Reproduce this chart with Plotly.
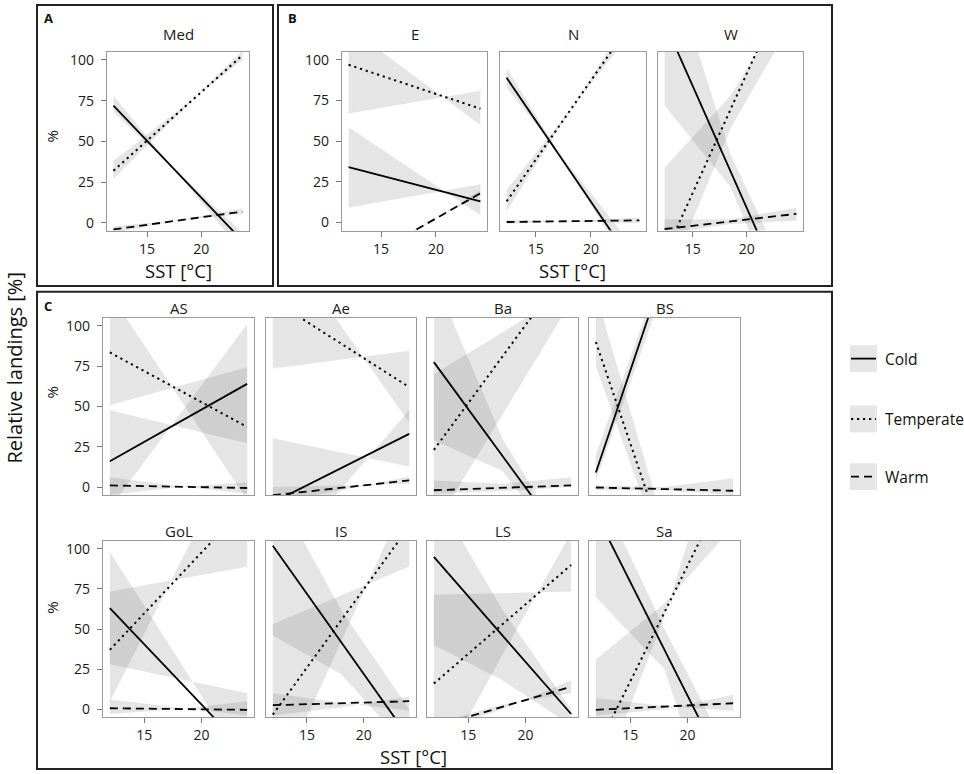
import plotly.graph_objects as go

# ---- data ------------------------------------------------------------------
PANELS = ["Med", "E", "N", "W", "AS", "Ae", "Ba", "BS", "GoL", "IS", "LS", "Sa"]
SST_START = [11.9, 12.05, 12.35, 12.4, 12, 12, 12, 12, 12, 12, 12, 12]
SST_END = [23.8, 24.05, 24.4, 24.6, 24, 24, 24, 24, 24, 24, 24, 24]

# fitted lines: value at SST_START, value at SST_END
COLD_LINE = [[72, -11], [34, 13], [89, -31], [123, -60], [16, 64], [-9.6, 33],
             [77.5, -39], [9, 261], [63, -27], [102, -18], [95, -3], [122, -48]]
TEMP_LINE = [[32, 103], [97, 70], [13, 130], [-20, 159], [83.5, 37.3], [116, 62],
             [23, 139], [90, -161], [37, 128], [-3.4, 114], [16, 90], [-26, 147]]
WARM_LINE = [[-4, 7], [-28, 18], [0.3, 1.3], [-4, 5.3], [1, -0.6], [-5.1, 4.1],
             [-2, 1], [-0.3, -2.3], [0.6, -0.4], [2.5, 5], [-11, 14], [-0.4, 3.7]]

# confidence band edges: values at start, middle, end of the SST range
COLD_EDGE_A = [[78, 30, -18], [58.6, 31.5, 4.4], [95, 29, -38], [72, 22, -75],
               [-13, 44, 101], [30.2, 21.5, 12.7], [29, 10, -46], [4, 125, 250],
               [98, 31, -37], [46, 22, -25], [40, 18, -10], [70, 25, -107]]
COLD_EDGE_B = [[68, 31, -6], [9.2, 16.4, 23.5], [83, 32, -20], [170, 42, -45],
               [47.6, 37.4, 27.1], [-50, -1, 47.6], [130, 30, -40], [20, 140, 270],
               [28, 19, 10], [140, 62, 0], [135, 62, 0], [141, 50, -33]]
TEMP_EDGE_A = [[27, 66.5, 106], [67, 74, 81], [7, 71.5, 136], [-40, 58, 128],
               [120, 56, -8], [73.6, 79.1, 84.6], [-25, 45, 115], [75, -45, -175],
               [73.5, 81.2, 88.9], [53, 71, 89], [71.4, 72.5, 73.5], [31, 66, 114]]
TEMP_EDGE_B = [[38, 69, 100], [120, 90, 60], [20, 71.5, 123], [33.7, 78, 144],
               [50.7, 62.5, 74.3], [160, 100, 40], [70, 96, 122], [120, -25, -150],
               [4.7, 89.5, 174], [-52, 42, 136], [-44, 34, 110], [-54, 58, 195]]
WARM_EDGE_A = [[-6, 1.5, 9], [-32, -6, 20], [-1, 1, 3], [-7, -1, 1],
               [-5, 0, 3], [-10, -2, 6.5], [-4, -2.5, 0], [-2, -2, -5],
               [-3, 0, 5], [-4, 1, 8], [-14, 0, 18], [-4, 0, 9]]
WARM_EDGE_B = [[-2, 1.75, 5.5], [-25, -4.3, 16.5], [1.5, 0.5, -0.5], [2, 2, 9],
               [6, 0.5, -4], [0, 1, 2], [4, 2, 6], [1, 0, 5.5],
               [6, 1, -4], [10, 4, -1], [-9, 3, 10], [7, 2, -1]]

CLASSES = ["Cold", "Temperate", "Warm"]
Y_TICKS = [0, 25, 50, 75, 100]
X_TICKS = [15, 20]

# ---- layout geometry (pixels) ----------------------------------------------
W, H = 964, 774
FONT = "Open Sans"
BOXES = {
    "Med": (107, 249, 50, 230),
    "E": (342, 487, 50, 229.5), "N": (500, 646, 50, 229.5), "W": (658, 803, 50, 229.5),
    "AS": (103, 254, 317, 495), "Ae": (266, 416, 317, 495),
    "Ba": (427, 578, 317, 495), "BS": (589, 740, 317, 495),
    "GoL": (103, 254, 541, 718), "IS": (266, 416, 541, 718),
    "LS": (427, 578, 541, 718), "Sa": (589, 740, 541, 718),
}
TITLE_Y = {50: 32, 317: 307, 541: 531}
SHOW_Y = {"Med", "E", "AS", "GoL"}
SHOW_X = {"Med", "E", "N", "W", "GoL", "IS", "LS", "Sa"}

RIBBON = "rgba(110,110,110,0.18)"
DASHES = {"Cold": "solid", "Temperate": "2.2px,3.8px", "Warm": "8px,5px"}


def fx(px):
    return px / W


def fy(py):
    return 1 - py / H


fig = go.Figure()
layout = {}
annotations = []


def label(text, x, y, size, angle=0, bold=False, xanchor="center", color="#111"):
    annotations.append(dict(
        x=fx(x), y=fy(y), xref="paper", yref="paper", showarrow=False,
        text=f"<b>{text}</b>" if bold else text, textangle=angle,
        xanchor=xanchor, yanchor="middle",
        font=dict(family=FONT, size=size, color=color),
    ))


for i, name in enumerate(PANELS):
    n = i + 1
    sfx = "" if n == 1 else str(n)
    x0, x1 = SST_START[i], SST_END[i]
    xm = (x0 + x1) / 2
    edges = [(COLD_EDGE_A[i], COLD_EDGE_B[i]),
             (TEMP_EDGE_A[i], TEMP_EDGE_B[i]),
             (WARM_EDGE_A[i], WARM_EDGE_B[i])]
    lines = [COLD_LINE[i], TEMP_LINE[i], WARM_LINE[i]]

    # confidence ribbons
    for ea, eb in edges:
        fig.add_trace(go.Scatter(
            x=[x0, xm, x1, x1, xm, x0],
            y=[ea[0], ea[1], ea[2], eb[2], eb[1], eb[0]],
            fill="toself", fillcolor=RIBBON, mode="lines",
            line=dict(width=0, color="rgba(0,0,0,0)"),
            hoverinfo="skip", showlegend=False,
            xaxis="x" + sfx, yaxis="y" + sfx,
        ))
    # fitted lines
    for cls, ln in zip(CLASSES, lines):
        fig.add_trace(go.Scatter(
            x=[x0, x1], y=ln, mode="lines",
            line=dict(color="black", width=2 if cls == "Temperate" else 1.8,
                      dash=DASHES[cls]),
            name=cls, showlegend=False,
            xaxis="x" + sfx, yaxis="y" + sfx,
        ))

    left, right, top, bottom = BOXES[name]
    pad = 0.05 * (x1 - x0)
    layout["xaxis" + sfx] = dict(
        domain=[fx(left), fx(right)], range=[x0 - pad, x1 + pad],
        anchor="y" + sfx, tickvals=X_TICKS,
        showticklabels=name in SHOW_X, ticks="outside" if name in SHOW_X else "",
        ticklen=5, tickcolor="#777", tickwidth=1.2,
        showline=True, mirror=True, linecolor="#9a9a9a", linewidth=1.2,
        showgrid=False, zeroline=False,
        tickfont=dict(family=FONT, size=14, color="#1a1a1a"),
    )
    layout["yaxis" + sfx] = dict(
        domain=[fy(bottom), fy(top)], range=[-5, 105],
        anchor="x" + sfx, tickvals=Y_TICKS,
        showticklabels=name in SHOW_Y, ticks="outside" if name in SHOW_Y else "",
        ticklen=5, tickcolor="#777", tickwidth=1.2, ticklabelstandoff=4,
        showline=True, mirror=True, linecolor="#9a9a9a", linewidth=1.2,
        showgrid=False, zeroline=False,
        tickfont=dict(family=FONT, size=14, color="#1a1a1a"),
    )
    # facet title
    label(name, (left + right) / 2, TITLE_Y[int(top)], 15, color="#1a1a1a")


label("SST [°C]", 178, 270, 18.5)
label("SST [°C]", 572, 270, 18.5)
label("SST [°C]", 413, 757, 18.5)
label("%", 52, 135, 15, angle=-90)
label("%", 52, 392, 15, angle=-90)
label("%", 52, 608, 15, angle=-90)
label("Relative landings [%]", 15, 367, 20, angle=-90)
label("A", 48, 16, 13, bold=True)
label("B", 292, 16, 13, bold=True)
label("C", 48, 305, 13, bold=True)

shapes = []
# outer panel frames
for (l, r, t, b) in [(37, 273, 3, 285), (278, 832, 3, 285), (37, 832, 291, 770)]:
    shapes.append(dict(type="rect", xref="paper", yref="paper",
                       x0=fx(l), x1=fx(r), y0=fy(b), y1=fy(t),
                       line=dict(color="#222", width=2)))

# legend
for cls, yc in zip(CLASSES, [358, 418.5, 476.5]):
    shapes.append(dict(type="rect", xref="paper", yref="paper",
                       x0=fx(850), x1=fx(877), y0=fy(yc + 13.5), y1=fy(yc - 13.5),
                       fillcolor="#e6e6e6", line=dict(width=0)))
    shapes.append(dict(type="line", xref="paper", yref="paper",
                       x0=fx(851), x1=fx(876), y0=fy(yc), y1=fy(yc),
                       line=dict(color="black", width=2 if cls == "Temperate" else 1.8,
                                 dash=DASHES[cls])))
    label(cls, 883, yc, 15.5, xanchor="left")

fig.update_layout(
    **layout,
    width=W, height=H,
    margin=dict(l=0, r=0, t=0, b=0),
    paper_bgcolor="white", plot_bgcolor="white",
    showlegend=False,
    annotations=annotations,
    shapes=shapes,
    font=dict(family=FONT),
)

fig.write_html("out.html", config={"displayModeBar": False},
               post_script="document.body.style.margin='0';")
